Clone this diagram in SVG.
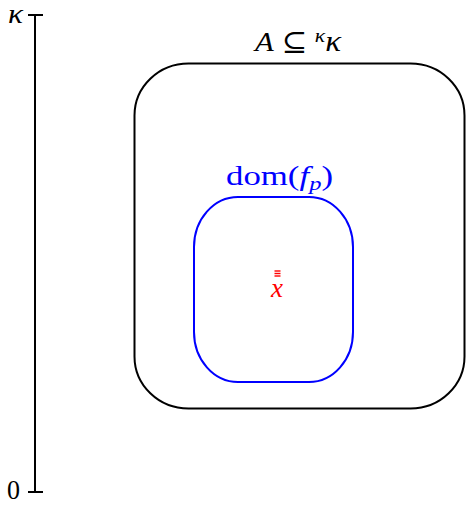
<svg xmlns="http://www.w3.org/2000/svg" width="467" height="505" viewBox="0 0 467 505">
<style>
.t{font-family:"Liberation Serif","DejaVu Serif",serif;font-size:27px}
.i{font-style:italic}
.ax{stroke:#000;stroke-width:2;fill:none}
</style>
<rect width="467" height="505" fill="#fff"/>
<g id="axis">
<line class="ax" x1="35" y1="15" x2="35" y2="492"/>
<line class="ax" x1="28" y1="15" x2="43" y2="15"/>
<line class="ax" x1="28" y1="492" x2="43" y2="492"/>
<text class="t i" x="8" y="23" font-size="27" textLength="15" lengthAdjust="spacingAndGlyphs">κ</text>
<text class="t" x="7" y="499" textLength="13" lengthAdjust="spacingAndGlyphs">0</text>
</g>
<g id="A">
<rect x="134.5" y="63.5" width="330" height="345" rx="54" ry="52" fill="none" stroke="#000" stroke-width="2"/>
<text class="t" x="255" y="51" textLength="86" lengthAdjust="spacingAndGlyphs"><tspan class="i">A</tspan> ⊆ <tspan class="i" font-size="19" dy="-9">κ</tspan><tspan class="i" dy="9" font-size="29">κ</tspan></text>
</g>
<g id="dom">
<rect x="194" y="197" width="159" height="185" rx="44" ry="50" fill="none" stroke="#0000ff" stroke-width="2"/>
<text class="t" x="226" y="185" fill="#0000ff" textLength="107" lengthAdjust="spacingAndGlyphs">dom(<tspan class="i">f</tspan><tspan class="i" font-size="19" dy="5">p</tspan><tspan dy="-5">)</tspan></text>
</g>
<g id="x">
<g stroke="#ff0000" stroke-width="1.4">
<line x1="274.5" y1="271" x2="280.5" y2="271"/>
<line x1="274.5" y1="273.5" x2="280.5" y2="273.5"/>
<line x1="274.5" y1="276" x2="280.5" y2="276"/>
</g>
<text class="t i" x="277" y="297" fill="#ff0000" text-anchor="middle" font-size="30">x</text>
</g>
</svg>
